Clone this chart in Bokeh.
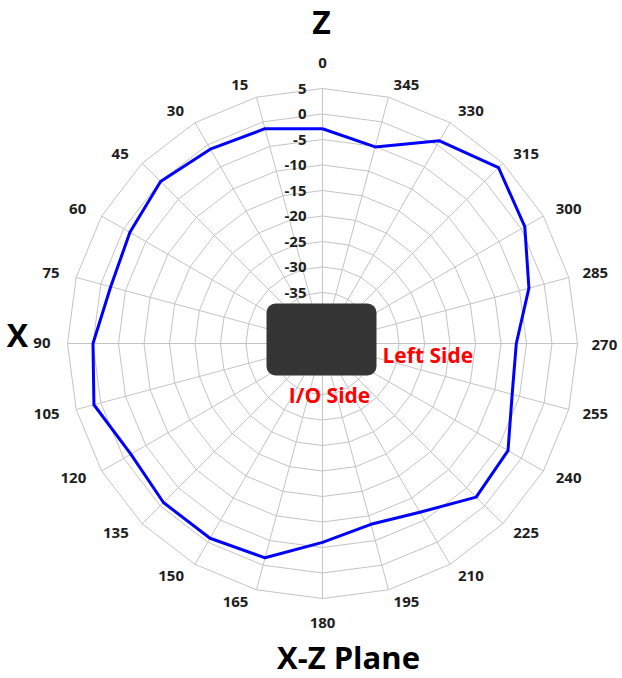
import numpy as np
from bokeh.plotting import figure
from bokeh.models import Range1d, BoxAnnotation
from bokeh.core.properties import value
from bokeh.embed import file_html
from bokeh.resources import INLINE

# ---------------- data ----------------
angles = list(range(0, 360, 15))                      # degrees, counter-clockwise from top
angle_labels = [str(a) for a in angles]
gain_db = [-2.9, -1.4, -1.0, -0.1, -1.4, -2.0, 0.0, 1.4, -1.6, -0.9, -0.9, -1.5,
           -6.0, -8.3, -6.8, -2.4, -3.0, -6.5, -7.0, -3.1, 0.8, 3.8, 0.9, -5.1]
ring_values = [-40, -35, -30, -25, -20, -15, -10, -5, 0, 5]
ring_tick_values = [5, 0, -5, -10, -15, -20, -25, -30, -35]
ring_tick_labels = ["5", "0", "-5", "-10", "-15", "-20", "-25", "-30", "-35"]
r_min, r_max = -45, 5

# ---------------- geometry helpers ----------------
PX = 5.1          # screen pixels per dB
CX, CY = 323, 344 # centre in picture pixels
O = 1             # picture offset of the figure
W, H = 620, 676

def polar(v, a_deg):
    r = v - r_min
    t = np.deg2rad(a_deg)
    return -r * np.sin(t), r * np.cos(t)

p = figure(width=W, height=H, output_backend="svg", toolbar_location=None,
           x_range=Range1d((O - CX) / PX, (O + W - CX) / PX),
           y_range=Range1d((CY - O - H) / PX, (CY - O) / PX),
           min_border=0, outline_line_color=None)
p.axis.visible = False
p.grid.visible = False
p.background_fill_color = "white"
p.border_fill_color = "white"

grid_col = "#c4c4c4"
# rings (polygonal)
ring_xs, ring_ys = [], []
for v in ring_values:
    xs, ys = [], []
    for a in angles + [angles[0]]:
        x, y = polar(v, a)
        xs.append(x); ys.append(y)
    ring_xs.append(xs); ring_ys.append(ys)
p.multi_line(ring_xs, ring_ys, line_color=grid_col, line_width=1)

# spokes
sx0, sy0, sx1, sy1 = [], [], [], []
for a in angles:
    x1, y1 = polar(r_max, a)
    sx0.append(0); sy0.append(0); sx1.append(x1); sy1.append(y1)
p.segment(sx0, sy0, sx1, sy1, line_color=grid_col, line_width=1)

# data polygon
dx, dy = [], []
for a, g in zip(angles + [angles[0]], gain_db + [gain_db[0]]):
    x, y = polar(g, a)
    dx.append(x); dy.append(y)
p.line(dx, dy, line_color="#0000ff", line_width=3, line_join="round")

# angle labels
lab_font = value("Open Sans")
groups = {"left": ([], [], []), "right": ([], [], []), "center": ([], [], [])}
for a, lab in zip(angles, angle_labels):
    vx, vy = polar(r_max, a)
    t = np.deg2rad(a)
    ux, uy = -np.sin(t), np.cos(t)        # data-space unit (y up)
    if abs(ux) < 1e-6:
        off = 26 if uy > 0 else 24
        groups["center"][0].append(vx)
        groups["center"][1].append(vy + np.sign(uy) * off / PX)
        groups["center"][2].append(lab)
    elif ux < 0:
        groups["right"][0].append(vx + (ux * 12 - 5) / PX)
        groups["right"][1].append(vy + (uy * 12 + np.sign(uy) * 1) / PX)
        groups["right"][2].append(lab)
    else:
        groups["left"][0].append(vx + (ux * 12 + 2) / PX)
        groups["left"][1].append(vy + (uy * 12 + np.sign(uy) * 1) / PX)
        groups["left"][2].append(lab)
for align, (xs, ys, ts) in groups.items():
    p.text(xs, ys, text=ts, text_align=align, text_baseline="middle",
           text_font=lab_font, text_font_style="bold", text_font_size="15px",
           text_color="#1e1e1e")

# ring value labels
rx = [-16 / PX] * len(ring_tick_values)
ry = [v - r_min for v in ring_tick_values]
p.text(rx, ry, text=ring_tick_labels, text_align="right", text_baseline="middle",
       text_font=lab_font, text_font_style="bold", text_font_size="15px",
       text_color="#1e1e1e")

# device block at centre
box = BoxAnnotation(left=-56 / PX, right=54 / PX, top=40 / PX, bottom=-32 / PX,
                    fill_color="#353535", fill_alpha=1.0, line_color=None,
                    border_radius=9)
p.add_layout(box)

p.text([60 / PX], [-11 / PX], text=["Left Side"], text_align="left", text_baseline="middle",
       text_font=lab_font, text_font_style="bold", text_font_size="21px", text_color="#ff0000")
p.text([7 / PX], [-51 / PX], text=["I/O Side"], text_align="center", text_baseline="middle",
       text_font=lab_font, text_font_style="bold", text_font_size="21px", text_color="#ff0000")

# axis titles
big = dict(text_font=lab_font, text_font_style="bold", text_font_size="32px",
           text_color="#000000", text_baseline="middle", text_align="center")
p.text([-1 / PX], [322 / PX], text=["Z"], **big)
p.text([-305 / PX], [9 / PX], text=["X"], **big)
p.text([26 / PX], [-313 / PX], text=["X-Z Plane"], text_font=lab_font, text_font_style="bold",
       text_font_size="31px", text_color="#000000", text_baseline="middle", text_align="center")

open("out.html", "w").write(file_html(p, INLINE))
